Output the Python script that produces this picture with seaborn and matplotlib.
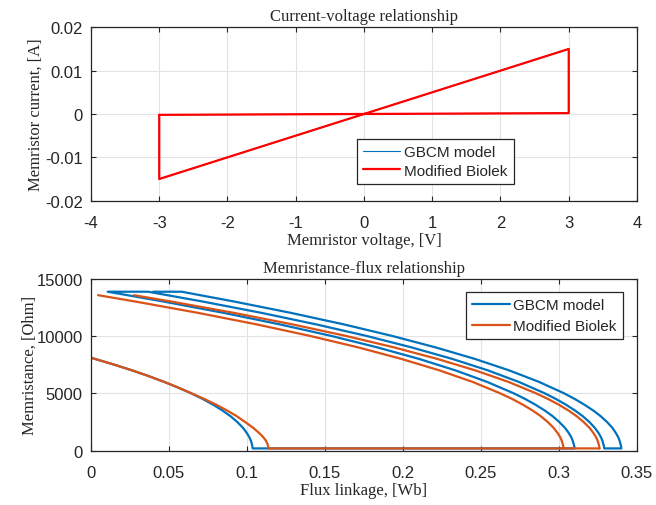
import matplotlib
matplotlib.use("Agg")
import matplotlib.pyplot as plt
from matplotlib.lines import Line2D
import numpy as np
import pandas as pd
import seaborn as sns

# ---------------- data: current-voltage ----------------
iv_voltage = [-3, 3, 3, -3, -3]
iv_current = [-0.0002, 0.0002, 0.015, -0.015, -0.0002]

# ---------------- data: memristance-flux ----------------
# lower branch (starting from phi = 0)
low_M = [8100, 7500, 7000, 6500, 6000, 5500, 5000, 4500, 4000, 3500,
         3000, 2500, 2000, 1500, 1200, 900, 600, 400, 200]
gb_low_phi = [0.0, 0.0148, 0.0263, 0.0370, 0.0468, 0.0559, 0.0642, 0.0717, 0.0784, 0.0843,
              0.0895, 0.0938, 0.0974, 0.1001, 0.1014, 0.1024, 0.1031, 0.1034, 0.1037]
mb_low_phi = [0.0, 0.0148, 0.0263, 0.0370, 0.0468, 0.0559, 0.0645, 0.0727, 0.0804, 0.0873,
              0.0935, 0.0988, 0.1039, 0.1081, 0.1103, 0.1120, 0.1131, 0.1135, 0.1137]

# upper branches (GBCM)
up_M_gb = [13850, 13000, 12000, 11000, 10000, 9000, 8000, 7000, 6000, 5000, 4500,
           4000, 3500, 3000, 2500, 2000, 1600, 1200, 900, 600, 400, 200]
gb_c1_phi = [0.0581, 0.0916, 0.1284, 0.1622, 0.1930, 0.2209, 0.2460, 0.2680, 0.2871, 0.3033, 0.3102,
             0.3164, 0.3220, 0.3268, 0.3308, 0.3342, 0.3362, 0.3379, 0.3388, 0.3394, 0.3398, 0.3400]
gb_c2_phi = [0.0366, 0.0714, 0.1096, 0.1445, 0.1766, 0.2055, 0.2315, 0.2544, 0.2741, 0.2909, 0.2981,
             0.3046, 0.3103, 0.3153, 0.3195, 0.3229, 0.3251, 0.3268, 0.3278, 0.3284, 0.3288, 0.3290]
gb_c3_phi = [0.0107, 0.0463, 0.0854, 0.1212, 0.1540, 0.1836, 0.2102, 0.2336, 0.2538, 0.2710, 0.2784,
             0.2850, 0.2909, 0.2960, 0.3002, 0.3038, 0.3060, 0.3078, 0.3087, 0.3094, 0.3098, 0.3100]
# upper branches (Modified Biolek)
up_M_mb = [13550, 13000, 12000, 11000, 10000, 9000, 8000, 7000, 6000, 5000, 4500,
           4000, 3500, 3000, 2500, 2000, 1600, 1200, 900, 600, 400, 200]
mb_c1_phi = [0.0275, 0.0512, 0.0919, 0.1293, 0.1634, 0.1943, 0.2219, 0.2463, 0.2675, 0.2853, 0.2931,
             0.3000, 0.3061, 0.3114, 0.3158, 0.3195, 0.3218, 0.3237, 0.3247, 0.3254, 0.3257, 0.3260]
mb_c2_phi = [0.0045, 0.0282, 0.0689, 0.1063, 0.1404, 0.1713, 0.1989, 0.2233, 0.2445, 0.2623, 0.2701,
             0.2770, 0.2831, 0.2884, 0.2928, 0.2965, 0.2988, 0.3007, 0.3017, 0.3024, 0.3027, 0.3030]

R_on = 200
gb_flat_end = [0.3100, 0.3290, 0.3400, 0.0400]
mb_flat_end = 0.3260

# ---------------- build tables ----------------
gb_phi = (gb_low_phi + [gb_flat_end[0]] + gb_c3_phi[::-1] + gb_c2_phi
          + [gb_flat_end[2]] + gb_c1_phi[::-1] + [gb_flat_end[3]])
gb_M = (low_M + [R_on] + up_M_gb[::-1] + up_M_gb
        + [R_on] + up_M_gb[::-1] + [up_M_gb[0]])
df_gb = pd.DataFrame({"phi": gb_phi, "M": gb_M, "seg": 0})

df_mb = pd.concat([
    pd.DataFrame({"phi": mb_low_phi + [mb_flat_end], "M": low_M + [R_on], "seg": 0}),
    pd.DataFrame({"phi": mb_c2_phi, "M": up_M_mb, "seg": 1}),
    pd.DataFrame({"phi": mb_c1_phi, "M": up_M_mb, "seg": 2}),
], ignore_index=True)

df_iv = pd.DataFrame({"v": iv_voltage, "i": iv_current})

# ---------------- style ----------------
sns.set_style("ticks")
plt.rcParams["font.family"] = ["Liberation Sans", "DejaVu Sans"]
plt.rcParams["axes.unicode_minus"] = False

BLUE = "#0072BD"
ORANGE = "#D95319"
RED = "#FF0000"
SPINE = "#262626"
GRID = "#e3e3e3"
serif = ["Liberation Serif", "DejaVu Serif"]

fig = plt.figure(figsize=(6.56, 5.06), dpi=100)
ax1 = fig.add_axes([0.1387, 0.6014, 0.8323, 0.3427])
ax2 = fig.add_axes([0.1387, 0.1073, 0.8323, 0.3403])

# top plot
sns.lineplot(data=df_iv, x="v", y="i", sort=False, estimator=None, color=BLUE,
             linewidth=0.8, label="GBCM model", ax=ax1)
sns.lineplot(data=df_iv, x="v", y="i", sort=False, estimator=None, color=RED,
             linewidth=1.6, label="Modified Biolek", ax=ax1)
ax1.set_xlim(-4, 4)
ax1.set_ylim(-0.02, 0.02)
ax1.set_xticks([-4, -3, -2, -1, 0, 1, 2, 3, 4])
ax1.set_yticks([-0.02, -0.01, 0, 0.01, 0.02])
ax1.set_yticklabels(["-0.02", "-0.01", "0", "0.01", "0.02"])
ax1.set_title("Current-voltage relationship", fontfamily=serif, fontsize=12, pad=5)
ax1.set_xlabel("Memristor voltage, [V]", fontfamily=serif, fontsize=12, labelpad=2)
ax1.set_ylabel("Memristor current, [A]", fontfamily=serif, fontsize=12, labelpad=1)

# bottom plot
sns.lineplot(data=df_gb, x="phi", y="M", units="seg", sort=False, estimator=None,
             color=BLUE, linewidth=1.6, solid_joinstyle="round", ax=ax2)
sns.lineplot(data=df_mb, x="phi", y="M", units="seg", sort=False, estimator=None,
             color=ORANGE, linewidth=1.6, solid_joinstyle="round", ax=ax2)
ax2.set_xlim(0, 0.35)
ax2.set_ylim(0, 15000)
ax2.set_xticks([0, 0.05, 0.1, 0.15, 0.2, 0.25, 0.3, 0.35])
ax2.set_xticklabels(["0", "0.05", "0.1", "0.15", "0.2", "0.25", "0.3", "0.35"])
ax2.set_yticks([0, 5000, 10000, 15000])
ax2.set_title("Memristance-flux relationship", fontfamily=serif, fontsize=12, pad=5)
ax2.set_xlabel("Flux linkage, [Wb]", fontfamily=serif, fontsize=12, labelpad=2)
ax2.set_ylabel("Memristance, [Ohm]", fontfamily=serif, fontsize=12, labelpad=-1)

h2 = [Line2D([], [], color=BLUE, lw=1.6), Line2D([], [], color=ORANGE, lw=1.6)]

for ax in (ax1, ax2):
    ax.grid(True, color=GRID, linewidth=0.8)
    ax.set_axisbelow(True)
    for s in ax.spines.values():
        s.set_color(SPINE)
        s.set_linewidth(0.9)
    ax.tick_params(direction="in", length=3.5, width=0.8, colors=SPINE,
                   labelsize=12, top=True, right=True)
    ax.tick_params(axis="x", pad=10)
    ax.tick_params(axis="y", pad=6)

leg_kw = dict(loc="upper left", borderaxespad=0, frameon=True, fancybox=False,
              framealpha=1, edgecolor=SPINE, fontsize=11, handlelength=2.45,
              handletextpad=0.25, borderpad=0.4)
ax1.legend(bbox_to_anchor=(0.487, 0.356), labelspacing=0.3, **leg_kw)
ax2.legend(h2, ["GBCM model", "Modified Biolek"], bbox_to_anchor=(0.687, 0.922),
           labelspacing=0.45, **leg_kw)
for ax in (ax1, ax2):
    ax.get_legend().get_frame().set_linewidth(0.9)

fig.savefig("out.png", dpi=100)
